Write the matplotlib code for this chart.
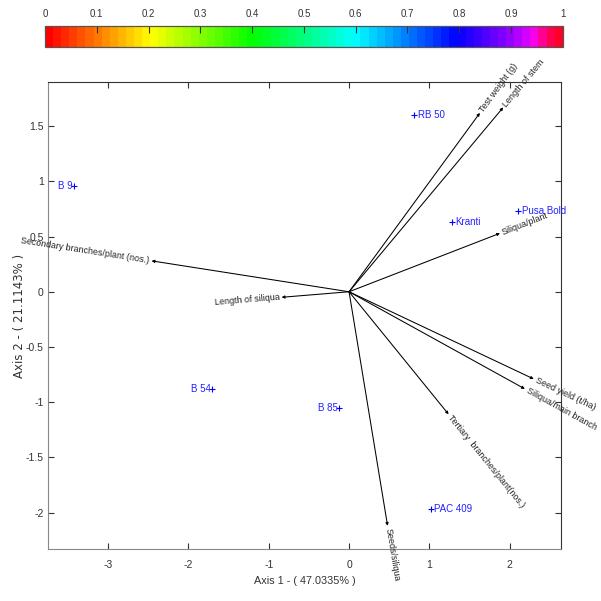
import numpy as np
import matplotlib.pyplot as plt
from matplotlib.colors import LinearSegmentedColormap, Normalize
from matplotlib.cm import ScalarMappable

plt.rcParams['font.family'] = ['Liberation Sans', 'DejaVu Sans']

# genotype scores
genotypes = ['RB 50', 'Kranti', 'Pusa Bold', 'B 9', 'B 54', 'B 85', 'PAC 409']
geno_x = [0.81, 1.28, 2.11, -3.42, -1.71, -0.12, 1.02]
geno_y = [1.60, 0.635, 0.73, 0.96, -0.885, -1.05, -1.97]

# trait loadings (vectors)
traits = ['Test weight (g)', 'Length of stem', 'Siliqua/plant',
          'Secondary branches/plant (nos.)', 'Length of siliqua',
          'Seed yield (t/ha)', 'Siliqua/main branch',
          'Tertiary  branches/plant(nos.)', 'Seeds/siliqua']
trait_x = [1.63, 1.92, 1.88, -2.46, -0.84, 2.30, 2.19, 1.24, 0.48]
trait_y = [1.62, 1.67, 0.53, 0.28, -0.05, -0.79, -0.88, -1.11, -2.12]

cbar_ticks = [0, 0.1, 0.2, 0.3, 0.4, 0.5, 0.6, 0.7, 0.8, 0.9, 1]

fig = plt.figure(figsize=(6.01, 6.01), dpi=100)
ax = fig.add_axes([48/601, 1-549/601, 513/601, 467/601])
ax.set_xlim(-3.75, 2.64)
ax.set_ylim(-2.33, 1.90)

# vectors
ox, oy = ax.transData.transform((0, 0))
for name, vx, vy in zip(traits, trait_x, trait_y):
    ax.annotate('', xy=(vx, vy), xytext=(0, 0),
                arrowprops=dict(arrowstyle='-|>', color='black', lw=0.75,
                                mutation_scale=4, shrinkA=0, shrinkB=0))
    px, py = ax.transData.transform((vx, vy))
    ang = np.degrees(np.arctan2(py - oy, px - ox))
    d = np.array([np.cos(np.radians(ang)), np.sin(np.radians(ang))]) * 1.5
    if vx < 0:
        rot, ha = ang + 180, 'right'
    else:
        rot, ha = ang, 'left'
    ax.annotate(name, xy=(vx, vy), xytext=(d[0], d[1]), textcoords='offset points',
                rotation=rot, rotation_mode='anchor', ha=ha, va='center',
                fontsize=6.4, color='#222222', annotation_clip=False)

# genotype points
ax.plot(geno_x, geno_y, linestyle='none', marker='+', color='blue',
        markersize=5, markeredgewidth=0.8)
for name, gx, gy in zip(genotypes, geno_x, geno_y):
    if gx < 0:
        ax.annotate(name, xy=(gx, gy), xytext=(-1, 0), textcoords='offset points',
                    ha='right', va='center', fontsize=7, color='#2222ff')
    else:
        ax.annotate(name, xy=(gx, gy), xytext=(2.5, 0), textcoords='offset points',
                    ha='left', va='center', fontsize=7, color='#2222ff')

ax.set_xticks([-3, -2, -1, 0, 1, 2])
ax.set_xticklabels(['-3', '-2', '-1', '0', '1', '2'])
ax.set_yticks([-2, -1.5, -1, -0.5, 0, 0.5, 1, 1.5])
ax.set_yticklabels(['-2', '-1.5', '-1', '-0.5', '0', '0.5', '1', '1.5'])
ax.tick_params(direction='in', top=True, right=True, length=4, width=0.8,
               labelsize=7.5, colors='#333333')
ax.tick_params(axis='x', pad=8)
ax.tick_params(axis='y', pad=3)
for s in ['left', 'bottom']:
    ax.spines[s].set_color('#888888')
for s in ['top', 'right']:
    ax.spines[s].set_color('#333333')
ax.set_xlabel('Axis 1 - ( 47.0335% )', fontsize=7.8, color='#333333', labelpad=4)
ax.set_ylabel('Axis 2 - ( 21.1143% )', fontsize=8.5, color='#333333',
              family=['DejaVu Sans'])
ax.yaxis.set_label_coords(-0.043, 0.5)

# colour bar on top
anchors = [(0.0, (1, 0, 0)), (0.1, (1, 0.5, 0)), (0.2, (1, 1, 0)),
           (0.4, (0, 1, 0)), (0.6, (0, 1, 1)), (0.8, (0, 0, 1)),
           (0.9, (0.55, 0, 1)), (0.94, (0.85, 0, 1)), (0.955, (1, 0, 0.9)),
           (0.975, (1, 0, 0.4)), (1.0, (1, 0, 0.15))]
cmap = LinearSegmentedColormap.from_list('bar', anchors, N=64)
cax = fig.add_axes([45/601, 1-47.3/601, 517.7/601, 21.3/601])
cb = fig.colorbar(ScalarMappable(norm=Normalize(0, 1), cmap=cmap), cax=cax,
                  orientation='horizontal')
cb.set_ticks(cbar_ticks)
cb.set_ticklabels([('%g' % t) for t in cbar_ticks])
cax.xaxis.set_ticks_position('top')
cax.xaxis.set_label_position('top')
cax.tick_params(direction='in', length=5, width=0.8, labelsize=7,
                colors='#333333', pad=5)
cb.outline.set_edgecolor('#555555')
cb.outline.set_linewidth(0.9)

fig.savefig('out.png', dpi=100)
